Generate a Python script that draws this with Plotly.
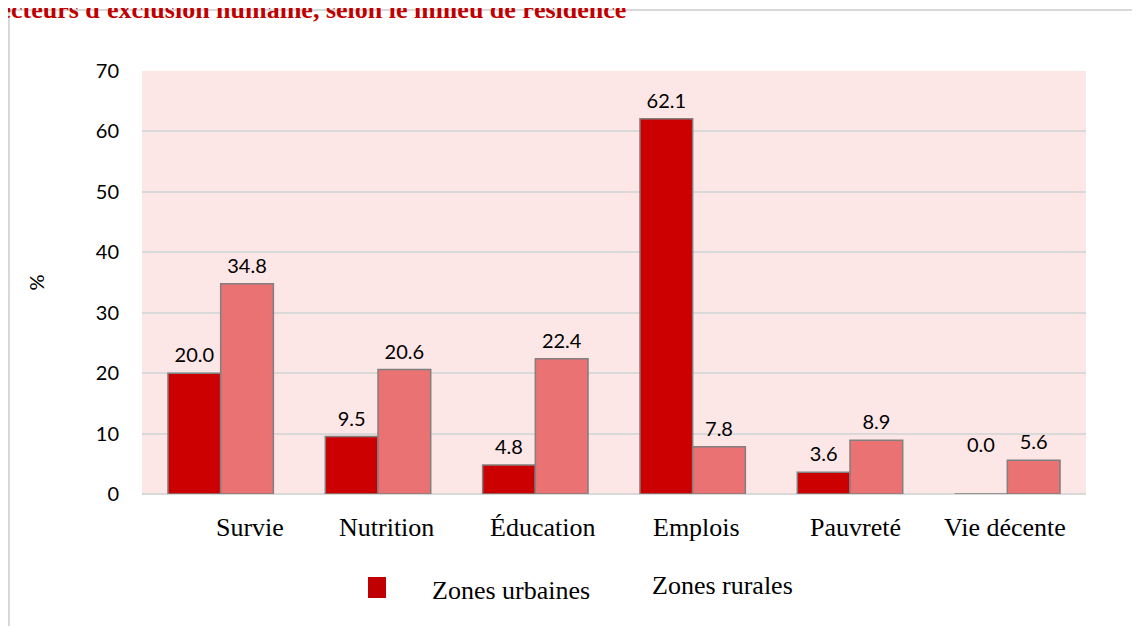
import plotly.graph_objects as go

# ---- data ----
categories = ["Survie", "Nutrition", "Éducation", "Emplois", "Pauvreté", "Vie décente"]
urbain = [20.0, 9.5, 4.8, 62.1, 3.6, 0.0]
rural = [34.8, 20.6, 22.4, 7.8, 8.9, 5.6]
series_names = ["Zones urbaines", "Zones rurales"]
y_ticks = [0, 10, 20, 30, 40, 50, 60, 70]
title_text = "Secteurs d'exclusion humaine, selon le milieu de résidence"

# ---- style ----
RED = "#CC0000"
PINK = "#EA7272"
EDGE = "#808080"
GRID = "#D9D9D9"
BG = "#FDE6E6"
NUM_FONT = "Lato"
SERIF = "Liberation Serif"
label_xshift = [29, 8, 7, 4, 5, -2]

# page geometry (the page has an 8px body margin)
FIG_W, FIG_H = 1132, 618
PL, PR, PT, PB = 142, 1086, 71, 494   # plot area in page pixels
OFF = 8
PW, PH = PR - PL, PB - PT


def px(xp):
    return (xp - PL) / PW


def py(yp):
    return (PB - yp) / PH


def lift(v):
    # invisible marker size that lifts the value label; Excel lifted the zero label higher
    return 8 if v > 0 else 58


fig = go.Figure()
for name, vals, col, grp in [(series_names[0], urbain, RED, "u"), (series_names[1], rural, PINK, "r")]:
    fig.add_trace(go.Bar(
        x=categories, y=vals, name=name, offsetgroup=grp,
        marker=dict(color=col, line=dict(color=EDGE, width=1.5)),
        showlegend=False, hoverinfo="x+y",
    ))
for name, vals, grp in [(series_names[0], urbain, "u"), (series_names[1], rural, "r")]:
    fig.add_trace(go.Scatter(
        x=categories, y=vals, name=name, offsetgroup=grp, mode="markers+text",
        text=[f"{v:.1f}" for v in vals], textposition="top center",
        textfont=dict(family=NUM_FONT, size=20, color="#000000"),
        marker=dict(size=[lift(v) for v in vals], opacity=0),
        cliponaxis=False, showlegend=False, hoverinfo="skip",
    ))

annotations = []
for cat, dx in zip(categories, label_xshift):
    annotations.append(dict(
        x=cat, xref="x", y=0, yref="paper", yanchor="top", xanchor="center",
        xshift=dx, yshift=-17, showarrow=False, text=cat,
        font=dict(family=SERIF, size=26, color="#000000"),
    ))
annotations.append(dict(
    x=px(628), xref="paper", xanchor="right", y=py(9), yref="paper", yanchor="middle",
    showarrow=False, text="<b>" + title_text + "</b>",
    font=dict(family=SERIF, size=26, color="#C00000"),
))
annotations.append(dict(
    x=px(430), xref="paper", xanchor="left", y=py(590), yref="paper",
    yanchor="middle", showarrow=False, text=series_names[0],
    font=dict(family=SERIF, size=26, color="#000000"),
))
annotations.append(dict(
    x=px(650), xref="paper", xanchor="left", y=py(585), yref="paper",
    yanchor="middle", showarrow=False, text=series_names[1],
    font=dict(family=SERIF, size=26, color="#000000"),
))

shapes = [
    dict(type="rect", xref="paper", yref="paper",
         x0=px(9), x1=px(1170), y0=py(660), y1=py(10),
         line=dict(color="#D9D9D9", width=2), fillcolor="rgba(0,0,0,0)", layer="below"),
    dict(type="rect", xref="paper", yref="paper",
         x0=px(368), x1=px(386), y0=py(598), y1=py(577),
         line=dict(width=0), fillcolor="#C00000"),
]

fig.update_layout(
    width=FIG_W, height=FIG_H,
    margin=dict(l=PL - OFF, r=FIG_W - (PR - OFF), t=PT - OFF, b=FIG_H - (PB - OFF)),
    paper_bgcolor="white", plot_bgcolor=BG,
    barmode="group", bargap=0.33, bargroupgap=0.0,
    scattermode="group", scattergap=0.33,
    annotations=annotations, shapes=shapes,
    showlegend=False,
)
fig.update_xaxes(showticklabels=False, showgrid=False, zeroline=False,
                 showline=False, ticks="")
fig.update_yaxes(range=[0, 70], tickvals=y_ticks, showgrid=True, gridcolor=GRID, gridwidth=1.5,
                 zeroline=True, zerolinecolor=GRID, zerolinewidth=2,
                 showline=False, ticks="", ticklabelstandoff=22,
                 tickfont=dict(family=NUM_FONT, size=20, color="#000000"),
                 title=dict(text="%", font=dict(family=NUM_FONT, size=20, color="#000000"),
                            standoff=45))

fig.write_html("out.html")
